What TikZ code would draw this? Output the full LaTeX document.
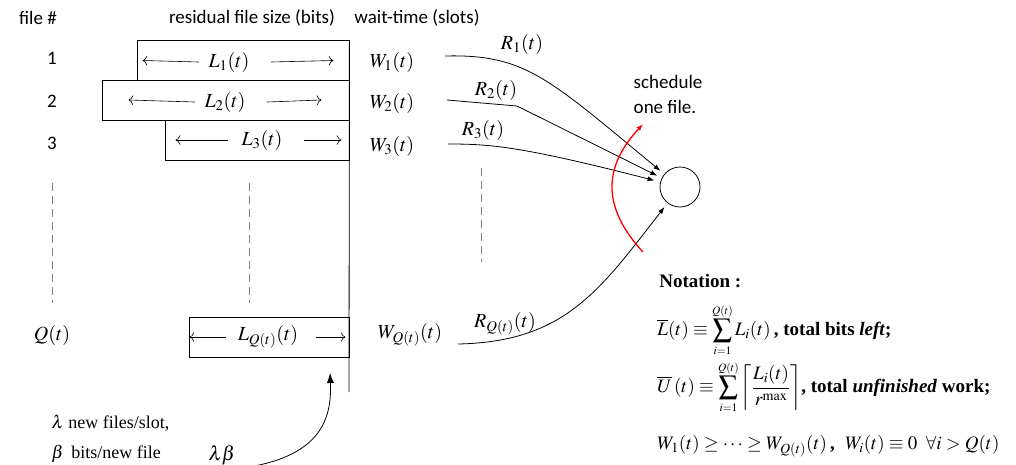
\documentclass[tikz,border=0pt]{standalone}
\usepackage{amsmath}
\usepackage[no-math]{fontspec}
\usepackage{mathptmx}
\setmainfont{Liberation Serif}
\newfontfamily\labfont{Carlito}
\usetikzlibrary{arrows.meta}

\begin{document}
\begin{tikzpicture}[x=1pt,y=-1pt,line width=0.8pt,>={Latex[length=2.4mm]},
  lab/.style={font=\labfont\fontsize{19}{25}\selectfont},
  mth/.style={font=\fontsize{20}{24}\selectfont},
  note/.style={font=\fontsize{19}{23}\selectfont\bfseries,anchor=west,inner sep=0pt},
  filebox/.style={draw,minimum height=40,inner sep=0pt},
  sizearr/.style={line width=0.6pt,-{To[length=1.6mm]}},
  guide/.style={dash pattern=on 8pt off 5pt,gray,line width=1pt}]
  \useasboundingbox (0,0) rectangle (1016,464);
  % column heads
  \node[lab] (hfile) at (38,18){file \#};
  \node[lab] (hsize) at (252,18){residual file size (bits)};
  \node[lab] (hwait) at (417,18){wait-time (slots)};
  % file numbers
  \node[lab] (n1) at (52,58){1};
  \node[lab] (n2) at (52,101){2};
  \node[lab] (n3) at (52,143){3};
  \node[mth] (nq) at (52,335){$Q(t)$};
  % residual sizes
  \node[filebox,minimum width=212] (b1) at (243,60.5){};
  \node[filebox,minimum width=247] (b2) at (225.5,100){};
  \node[filebox,minimum width=184] (b3) at (257,140){};
  \node[filebox,minimum width=160] (bq) at (269,337){};
  \node[mth] (l1) at (229,62){$L_1(t)$};
  \node[mth] (l2) at (225,102){$L_2(t)$};
  \node[mth] (l3) at (262,140){$L_3(t)$};
  \node[mth] (lq) at (268,337){$L_{Q(t)}(t)$};
  \draw[sizearr] (l1.west) ++(-6,0) -- ([xshift=6]b1.west);
  \draw[sizearr] (l1.east) ++(18,0) -- ([xshift=-16]b1.east);
  \draw[sizearr] (l2.west) ++(-6,0) -- ([xshift=27]b2.west);
  \draw[sizearr] (l2.east) ++(18,0) -- ([xshift=-28]b2.east);
  \draw[sizearr] (l3.west) ++(-10,0) -- ([xshift=11]b3.west);
  \draw[sizearr] (l3.east) ++(18,0) -- ([xshift=-8]b3.east);
  \draw[sizearr] (lq.west) ++(-8,0) -- ([xshift=1]bq.west);
  \draw[sizearr] (lq.east) ++(14,0) -- ([xshift=-4]bq.east);
  \coordinate (qbot) at (349,392);
  \draw (b1.north east) -- (qbot);
  % wait-times
  \node[mth] (w1) at (392,62){$W_1(t)$};
  \node[mth] (w2) at (392,103){$W_2(t)$};
  \node[mth] (w3) at (392,146){$W_3(t)$};
  \node[mth] (wq) at (410,335){$W_{Q(t)}(t)$};
  % dots
  \draw[guide] (52,183) -- (52,303);
  \draw[guide] (249,183) -- (249,303);
  \draw[guide] (481,168) -- (481,262);
  % server
  \node[draw,circle,minimum size=40,inner sep=0pt] (srv) at (680,187){};
  \draw[->,shorten >=5pt] ([shift={(27,-6)}]w1.east) .. controls (525,54) and (548,78) .. (srv);
  \draw[->,shorten >=5pt] ([shift={(29,-3)}]w2.east) -- (517,106) -- (srv);
  \draw[->,shorten >=6pt] ([shift={(30,-2)}]w3.east) .. controls (490,144) and (520,146) .. (srv);
  \draw[->,shorten >=5pt] ([shift={(12,9)}]wq.east) .. controls (565,342) and (600,290) .. (srv);
  \node[mth] (r1) at (522,44){$R_1(t)$};
  \node[mth] (r2) at (496,90){$R_2(t)$};
  \node[mth] (r3) at (483,130){$R_3(t)$};
  \node[mth] (rq) at (505,324){$R_{Q(t)}(t)$};
  % scheduling
  \node[lab,align=left,anchor=north west] (sched) at (630,72){schedule\\one file.};
  \coordinate (redbot) at (643,252);
  \coordinate (redtop) at (643,124);
  \draw[->,red,line width=1.3pt] (redbot) .. controls (595,200) and (610,160) .. (redtop);
  % arrivals
  \node[mth,anchor=west] (arr1) at (48,423){\fontsize{18}{22}\selectfont$\lambda$ new files/slot,};
  \node[mth,anchor=west] (arr2) at (48,454){\fontsize{18}{22}\selectfont$\beta$\, bits/new file};
  \node[mth] (lb) at (222,455){$\lambda\beta$};
  \draw[-{Latex[length=3.5mm,width=2.5mm]}] (lb.south east) .. controls (320,458) and (332,420) .. (330,373);
  % notation
  \node[note] (nt) at (659,281){Notation :};
  \node[note] (eq1) at (657,330){$\overline{L}(t)\equiv\displaystyle\sum_{\scriptscriptstyle i=1}^{\scriptscriptstyle Q(t)}L_i(t)$\,, total bits \textit{left};};
  \node[note] (eq2) at (657,387){$\overline{U}\,(t)\equiv\displaystyle\sum_{\scriptscriptstyle i=1}^{\scriptscriptstyle Q(t)}\left\lceil\frac{L_i(t)}{r^{\max}}\right\rceil$, total \textit{unfinished} work;};
  \node[note] (eq3) at (657,446){$W_1(t)\ge\cdots\ge W_{Q(t)}(t)$\,,\;\;$W_i(t)\equiv0\;\;\forall i>Q(t)$};
\end{tikzpicture}
\end{document}
